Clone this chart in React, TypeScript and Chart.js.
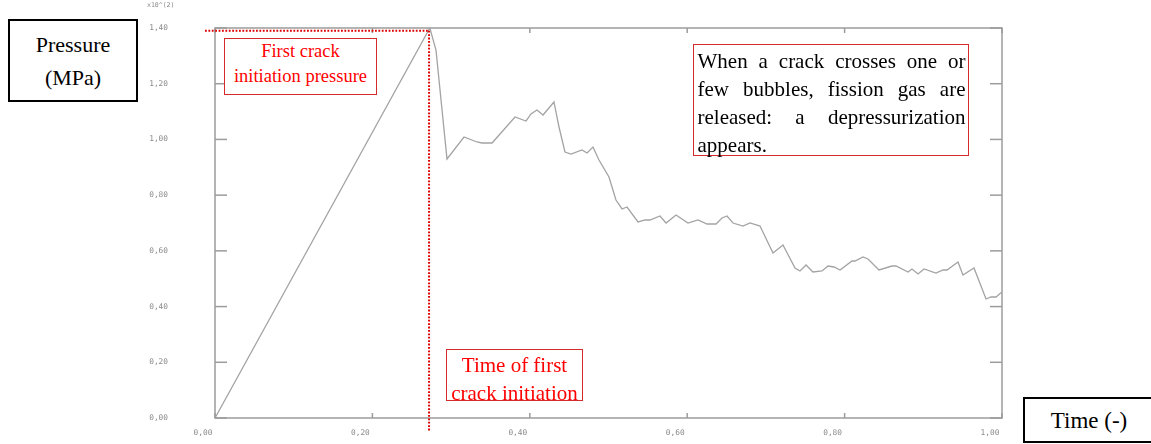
import React, { useEffect, useRef } from "react";
import { Chart, registerables } from "chart.js";

Chart.register(...registerables);

// ---- Data (time in -, pressure in x10^2 MPa) ----
const timeValues = [
  0.0, 0.273, 0.2808, 0.2948, 0.3164, 0.3329, 0.3393, 0.352, 0.3812, 0.3952,
  0.4015, 0.4091, 0.4168, 0.4307, 0.4371, 0.4447, 0.4524, 0.4663, 0.4727, 0.4803,
  0.4879, 0.5006, 0.5095, 0.5172, 0.5235, 0.5375, 0.5464, 0.5527, 0.5654, 0.5731,
  0.5858, 0.601, 0.6137, 0.6252, 0.6366, 0.6442, 0.6506, 0.6582, 0.6709, 0.6798,
  0.6925, 0.709, 0.7217, 0.737, 0.7433, 0.751, 0.7598, 0.7713, 0.7789, 0.7865,
  0.7942, 0.8094, 0.8132, 0.8234, 0.8297, 0.8437, 0.8602, 0.8653, 0.8806, 0.8856,
  0.8933, 0.9009, 0.9161, 0.925, 0.9301, 0.9441, 0.9504, 0.9644, 0.9797, 0.986,
  0.9924, 1.0,
];
const pressureValues = [
  0.0, 1.4, 1.321, 0.9297, 1.0087, 0.9908, 0.9872, 0.9872, 1.0805, 1.0662,
  1.0913, 1.1056, 1.0877, 1.1344, 1.0446, 0.9549, 0.9477, 0.9621, 0.9513, 0.9728,
  0.9262, 0.8651, 0.7826, 0.7503, 0.7574, 0.7036, 0.7108, 0.7108, 0.7251, 0.7,
  0.7287, 0.7, 0.7108, 0.6964, 0.6964, 0.7179, 0.7251, 0.7, 0.6892, 0.7,
  0.6892, 0.5923, 0.621, 0.5385, 0.5277, 0.5492, 0.5241, 0.5277, 0.5456, 0.5421,
  0.5313, 0.5636, 0.5636, 0.5779, 0.5708, 0.5313, 0.5456, 0.5456, 0.5241, 0.5349,
  0.5169, 0.5349, 0.5205, 0.5313, 0.5313, 0.56, 0.5133, 0.5385, 0.4272, 0.4344,
  0.4344, 0.4523,
];
const crackTime = 0.272;
const crackPressure = 1.39;
const xTickValues = [0, 0.2, 0.4, 0.6, 0.8, 1.0];
const yTickValues = [0, 0.2, 0.4, 0.6, 0.8, 1.0, 1.2, 1.4];
const axisMultiplier = "x10^(2)";

const fmt = (v: number) => Number(v).toFixed(2).replace(".", ",");

const framePlugin = {
  id: "framePlugin",
  afterDatasetsDraw(chart: any) {
    const { ctx, chartArea: a, scales } = chart;
    const x = scales.x;
    const y = scales.y;
    ctx.save();
    const seg = (x1: number, y1: number, x2: number, y2: number) => {
      ctx.beginPath();
      ctx.moveTo(x1, y1);
      ctx.lineTo(x2, y2);
      ctx.stroke();
    };
    // frame
    ctx.strokeStyle = "#9c9c9c";
    ctx.lineWidth = 1.5;
    ctx.strokeRect(a.left, a.top, a.right - a.left, a.bottom - a.top);
    // inward ticks
    yTickValues.forEach((v) => {
      const py = y.getPixelForValue(v);
      seg(a.left, py, a.left + 12, py);
      seg(a.right - 12, py, a.right, py);
    });
    xTickValues.forEach((v) => {
      const px = x.getPixelForValue(v);
      seg(px, a.bottom, px, a.bottom - 5);
      seg(px, a.top, px, a.top + 5);
    });
    // red dotted guide lines
    const cx = x.getPixelForValue(crackTime);
    const cy = y.getPixelForValue(crackPressure);
    ctx.strokeStyle = "#dd0000";
    ctx.lineWidth = 2;
    ctx.setLineDash([1.8, 1.6]);
    seg(a.left - 10, cy, cx, cy);
    seg(cx, cy, cx, a.bottom + 14);
    ctx.setLineDash([]);
    // multiplier
    ctx.fillStyle = "#8a8a8a";
    ctx.font = "6.5px 'DejaVu Sans Mono', monospace";
    ctx.textAlign = "left";
    ctx.textBaseline = "middle";
    ctx.fillText(axisMultiplier, a.left - 68, a.top - 23);
    ctx.restore();
  },
};

const boxBase: React.CSSProperties = {
  position: "absolute",
  boxSizing: "border-box",
  fontFamily: "'Liberation Serif', 'Times New Roman', serif",
  background: "#fff",
};

export default function App() {
  const canvasRef = useRef<HTMLCanvasElement | null>(null);

  useEffect(() => {
    if (!canvasRef.current) return;
    const tickFont = { family: "'DejaVu Sans Mono', monospace", size: 7.8 };
    const chart = new Chart(canvasRef.current, {
      type: "line",
      data: {
        datasets: [
          {
            data: timeValues.map((t, i) => ({ x: t, y: pressureValues[i] })),
            borderColor: "#a3a3a3",
            borderWidth: 1.3,
            pointRadius: 0,
            tension: 0,
            fill: false,
          },
        ],
      },
      options: {
        responsive: false,
        animation: false,
        layout: { padding: { left: 0, right: 149, top: 28, bottom: 0 } },
        plugins: { legend: { display: false }, tooltip: { enabled: false } },
        scales: {
          x: {
            type: "linear",
            min: 0,
            max: 1,
            grid: { display: false, drawTicks: false },
            border: { display: false },
            ticks: {
              labelOffset: -12,
              padding: 10,
              font: tickFont,
              color: "#8a8a8a",
              maxRotation: 0,
              autoSkip: false,
              callback: (v: any) => fmt(v),
            },
            afterBuildTicks: (s: any) => {
              s.ticks = xTickValues.map((value) => ({ value }));
            },
            afterFit: (s: any) => {
              s.height = 26;
              s.paddingLeft = 0;
              s.paddingRight = 0;
              s.paddingTop = 0;
              s.paddingBottom = 0;
            },
          },
          y: {
            type: "linear",
            min: 0,
            max: 1.4,
            grid: { display: false, drawTicks: false },
            border: { display: false },
            ticks: {
              padding: 47,
              font: tickFont,
              color: "#8a8a8a",
              autoSkip: false,
              callback: (v: any) => fmt(v),
            },
            afterBuildTicks: (s: any) => {
              s.ticks = yTickValues.map((value) => ({ value }));
            },
            afterFit: (s: any) => {
              s.width = 215;
              s.paddingTop = 0;
              s.paddingBottom = 0;
              s.paddingLeft = 0;
              s.paddingRight = 0;
            },
          },
        },
      },
      plugins: [framePlugin],
    } as any);
    return () => chart.destroy();
  }, []);

  return (
    <div
      style={{
        position: "fixed",
        left: 0,
        top: 0,
        width: 1151,
        height: 444,
        overflow: "hidden",
        background: "#fff",
      }}
    >
      <canvas
        ref={canvasRef}
        width={1151}
        height={444}
        style={{ position: "absolute", left: 0, top: 0, width: 1151, height: 444, display: "block" }}
      />
      <div
        style={{
          ...boxBase,
          left: 8,
          top: 19,
          width: 130,
          height: 83,
          border: "2px solid #000",
          fontSize: 22,
          lineHeight: "33px",
          color: "#000",
          display: "flex",
          flexDirection: "column",
          alignItems: "center",
          justifyContent: "center",
        }}
      >
        <div>Pressure</div>
        <div>(MPa)</div>
      </div>
      <div
        style={{
          ...boxBase,
          left: 224,
          top: 38,
          width: 153,
          height: 57,
          border: "1.5px solid #d42a2a",
          fontSize: 18.5,
          lineHeight: "25px",
          color: "#ff0000",
          textAlign: "center",
          paddingTop: 0,
        }}
      >
        First crack
        <br />
        initiation pressure
      </div>
      <div
        style={{
          ...boxBase,
          left: 446,
          top: 349,
          width: 137,
          height: 52,
          border: "1.5px solid #d42a2a",
          fontSize: 21,
          lineHeight: "28px",
          color: "#ff0000",
          textAlign: "center",
          paddingTop: 0.5,
          whiteSpace: "nowrap",
        }}
      >
        Time of first
        <br />
        crack initiation
      </div>
      <div
        style={{
          ...boxBase,
          left: 693,
          top: 44,
          width: 276,
          height: 112,
          border: "1.5px solid #d42a2a",
          fontSize: 21,
          lineHeight: "28px",
          color: "#000",
          textAlign: "justify",
          padding: "1.5px 2.5px 0 3.5px",
        }}
      >
        When a crack crosses one or few bubbles, fission gas are released: a depressurization appears.
      </div>
      <div
        style={{
          ...boxBase,
          left: 1023,
          top: 397,
          width: 132,
          height: 46,
          border: "2px solid #000",
          fontSize: 23,
          lineHeight: "40px",
          paddingTop: 2,
          color: "#000",
          textAlign: "center",
        }}
      >
        Time (-)
      </div>
    </div>
  );
}
